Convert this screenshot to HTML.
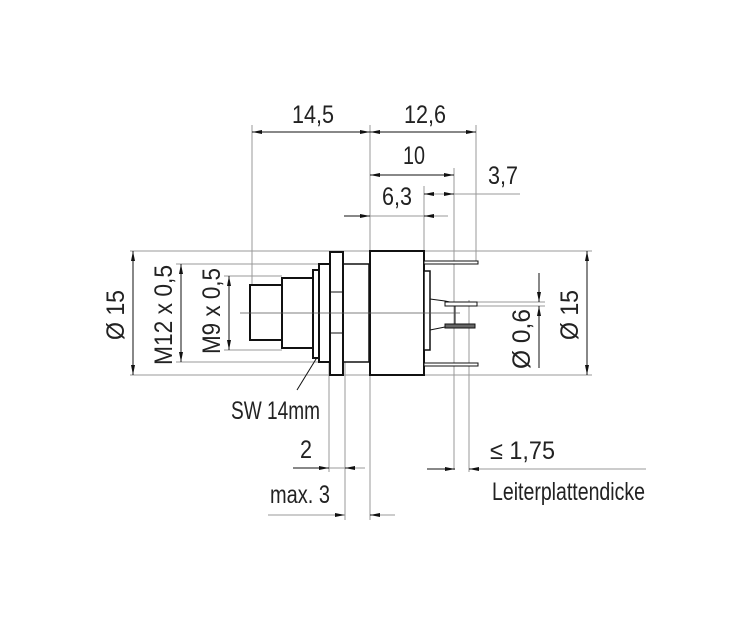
<!DOCTYPE html>
<html><head><meta charset="utf-8"><style>
html,body{margin:0;padding:0;background:#fff;}
svg{display:block;}
text{font-family:"Liberation Sans",sans-serif;font-size:25px;fill:#222;}
</style></head><body>
<svg width="746" height="619" viewBox="0 0 746 619" xmlns="http://www.w3.org/2000/svg">
<defs>
<marker id="a" viewBox="0 0 10 4" refX="10" refY="2" markerWidth="10" markerHeight="4" orient="auto" markerUnits="userSpaceOnUse"><path d="M0,0L10,2L0,4z" fill="#111"/></marker>
</defs>
<g stroke="#999" stroke-width="1" fill="none">
<line x1="252" y1="125" x2="252" y2="285"/>
<line x1="370" y1="125" x2="370" y2="520"/>
<line x1="476" y1="125" x2="476" y2="262"/>
<line x1="454" y1="168" x2="454" y2="470"/>
<line x1="424" y1="186" x2="424" y2="262"/>
<line x1="329" y1="360" x2="329" y2="472"/>
<line x1="345" y1="362" x2="345" y2="520"/>
<line x1="469" y1="300" x2="469" y2="472"/>
<line x1="130" y1="251" x2="592" y2="251"/>
<line x1="130" y1="375" x2="592" y2="375"/>
<line x1="176" y1="264" x2="320" y2="264"/>
<line x1="176" y1="362" x2="320" y2="362"/>
<line x1="224" y1="276" x2="282" y2="276"/>
<line x1="224" y1="350" x2="282" y2="350"/>
<line x1="477" y1="302" x2="545" y2="302"/>
<line x1="477" y1="306" x2="545" y2="306"/>
<line x1="434" y1="194" x2="520" y2="194"/>
</g>
<g stroke="#111" stroke-width="1" fill="none">
<line x1="252" y1="132" x2="370" y2="132"/>
<line x1="262" y1="132" x2="252" y2="132" marker-end="url(#a)"/>
<line x1="360" y1="132" x2="370" y2="132" marker-end="url(#a)"/>
<line x1="370" y1="132" x2="476" y2="132" marker-end="url(#a)"/>
<line x1="380" y1="132" x2="370" y2="132" marker-end="url(#a)"/>
<line x1="380" y1="175" x2="370" y2="175" marker-end="url(#a)"/>
<line x1="370" y1="175" x2="454" y2="175" marker-end="url(#a)"/>
<line x1="344" y1="216" x2="370" y2="216" marker-end="url(#a)"/>
<line x1="370" y1="216" x2="448" y2="216" stroke="#999"/>
<line x1="434" y1="216" x2="424" y2="216" marker-end="url(#a)"/>
<line x1="434" y1="194" x2="424" y2="194" marker-end="url(#a)"/>
<line x1="444" y1="194" x2="454" y2="194" marker-end="url(#a)"/>
<line x1="133" y1="251" x2="133" y2="375"/>
<line x1="133" y1="262" x2="133" y2="251" marker-end="url(#a)"/>
<line x1="133" y1="365" x2="133" y2="375" marker-end="url(#a)"/>
<line x1="181" y1="264" x2="181" y2="362"/>
<line x1="181" y1="274" x2="181" y2="264" marker-end="url(#a)"/>
<line x1="181" y1="352" x2="181" y2="362" marker-end="url(#a)"/>
<line x1="229" y1="276" x2="229" y2="350"/>
<line x1="229" y1="286" x2="229" y2="276" marker-end="url(#a)"/>
<line x1="229" y1="340" x2="229" y2="350" marker-end="url(#a)"/>
<line x1="587" y1="251" x2="587" y2="375"/>
<line x1="587" y1="262" x2="587" y2="251" marker-end="url(#a)"/>
<line x1="587" y1="365" x2="587" y2="375" marker-end="url(#a)"/>
<line x1="539" y1="273" x2="539" y2="302" marker-end="url(#a)"/>
<line x1="539" y1="368" x2="539" y2="306" marker-end="url(#a)"/>
<line x1="293" y1="468" x2="329" y2="468" marker-end="url(#a)"/>
<line x1="329" y1="468" x2="365" y2="468" stroke="#999"/>
<line x1="355" y1="468" x2="345" y2="468" marker-end="url(#a)"/>
<line x1="268" y1="515" x2="345" y2="515" stroke="#999" marker-end="url(#a)"/>
<line x1="370" y1="515" x2="395" y2="515" stroke="#999"/>
<line x1="380" y1="515" x2="370" y2="515" marker-end="url(#a)"/>
<line x1="427" y1="469" x2="455" y2="469" marker-end="url(#a)"/>
<line x1="469" y1="469" x2="646" y2="469" stroke="#999"/>
<line x1="479" y1="469" x2="469" y2="469" marker-end="url(#a)"/>
<line x1="297" y1="390" x2="340" y2="320"/>
</g>
<g stroke="#111" stroke-width="2" fill="#fff">
<rect x="250" y="285" width="32" height="55"/>
<rect x="282" y="278" width="31" height="70"/>
<rect x="313" y="270" width="6" height="88"/>
<rect x="319" y="264" width="11" height="98"/>
<rect x="343" y="264" width="26" height="98" stroke-width="1.5"/>
<rect x="330" y="252" width="13" height="123"/>
<line x1="330" y1="292" x2="343" y2="292" stroke-width="1"/>
<line x1="330" y1="333" x2="343" y2="333" stroke-width="1"/>
<rect x="370" y="251" width="54" height="124"/>
<rect x="424" y="271" width="6" height="79" stroke-width="1.5"/>
<rect x="424" y="261" width="54" height="3" stroke-width="1"/>
<rect x="424" y="363" width="54" height="3" stroke-width="1"/>
<path d="M430,299 L445,301 L455,303 L455,325 L445,327 L430,330" stroke-width="1" fill="none"/>
<rect x="445" y="302" width="32" height="4" stroke-width="1"/>
<rect x="445" y="324" width="30" height="4" stroke-width="1" fill="#666"/>
</g>
<line x1="240" y1="313" x2="460" y2="313" stroke="#555" stroke-width="0.7"/>
<text x="292" y="123" textLength="42" lengthAdjust="spacingAndGlyphs">14,5</text>
<text x="404" y="123" textLength="42" lengthAdjust="spacingAndGlyphs">12,6</text>
<text x="403" y="164" textLength="22" lengthAdjust="spacingAndGlyphs">10</text>
<text x="382" y="205" textLength="30" lengthAdjust="spacingAndGlyphs">6,3</text>
<text x="488" y="184" textLength="30" lengthAdjust="spacingAndGlyphs">3,7</text>
<text x="231" y="419" textLength="89" lengthAdjust="spacingAndGlyphs">SW 14mm</text>
<text x="300" y="458" textLength="12" lengthAdjust="spacingAndGlyphs">2</text>
<text x="270" y="503" textLength="60" lengthAdjust="spacingAndGlyphs">max. 3</text>
<text x="490" y="459" textLength="65" lengthAdjust="spacingAndGlyphs">≤ 1,75</text>
<text x="492" y="500" textLength="153" lengthAdjust="spacingAndGlyphs">Leiterplattendicke</text>
<text transform="translate(124,340) rotate(-90)" textLength="50" lengthAdjust="spacingAndGlyphs">Ø 15</text>
<text transform="translate(172,365) rotate(-90)" textLength="100" lengthAdjust="spacingAndGlyphs">M12 x 0,5</text>
<text transform="translate(220,354) rotate(-90)" textLength="86" lengthAdjust="spacingAndGlyphs">M9 x 0,5</text>
<text transform="translate(530,369) rotate(-90)" textLength="60" lengthAdjust="spacingAndGlyphs">Ø 0,6</text>
<text transform="translate(578,340) rotate(-90)" textLength="50" lengthAdjust="spacingAndGlyphs">Ø 15</text>
</svg>
</body></html>
